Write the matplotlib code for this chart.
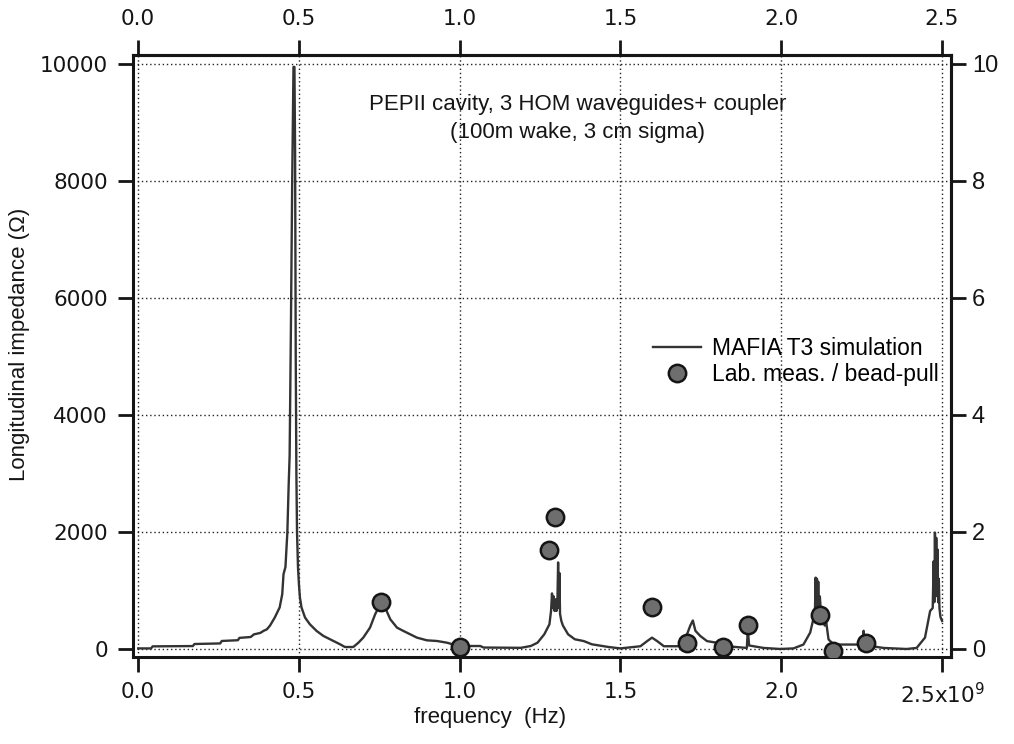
import matplotlib
matplotlib.use("Agg")
import matplotlib.pyplot as plt
from matplotlib.lines import Line2D

# ---------------- data ----------------
# MAFIA T3 simulation: frequency in GHz (axis is in Hz, x1e9), impedance in Ohm
sim_freq = [0.000, 0.040, 0.045, 0.170, 0.175, 0.255, 0.260, 0.310, 0.315, 0.350,
            0.360, 0.380, 0.390, 0.400, 0.410, 0.425, 0.440, 0.448, 0.452, 0.458,
            0.464, 0.468, 0.471, 0.475, 0.479, 0.483, 0.486, 0.488, 0.490, 0.492,
            0.494, 0.497, 0.500, 0.503, 0.508, 0.519, 0.534, 0.555, 0.576, 0.607,
            0.628, 0.643, 0.669, 0.685, 0.700, 0.721, 0.737, 0.753, 0.758, 0.768,
            0.784, 0.805, 0.825, 0.846, 0.867, 0.898, 0.929, 0.960, 0.986, 1.002,
            1.064, 1.074, 1.190, 1.221, 1.242, 1.263, 1.279, 1.284, 1.287, 1.289,
            1.292, 1.295, 1.298, 1.301, 1.304, 1.306, 1.308, 1.310, 1.312, 1.316,
            1.321, 1.337, 1.358, 1.386, 1.411, 1.463, 1.500, 1.562, 1.583, 1.598,
            1.614, 1.635, 1.681, 1.692, 1.707, 1.717, 1.725, 1.733, 1.748, 1.769,
            1.800, 1.831, 1.893, 1.896, 1.900, 1.945, 1.997, 2.038, 2.069, 2.090,
            2.100, 2.105, 2.107, 2.109, 2.111, 2.113, 2.115, 2.117, 2.120, 2.125,
            2.130, 2.135, 2.140, 2.147, 2.163, 2.204, 2.245, 2.253, 2.256, 2.259,
            2.266, 2.318, 2.390, 2.421, 2.447, 2.463, 2.471, 2.474, 2.476, 2.478,
            2.480, 2.482, 2.484, 2.486, 2.488, 2.490, 2.492, 2.495, 2.500]
sim_imp = [10, 10, 45, 50, 85, 95, 137, 150, 190, 205,
           250, 275, 310, 335, 400, 540, 710, 936, 1280, 1400,
           2000, 2800, 3300, 5500, 8000, 9950, 9950, 8500, 5000, 3000,
           2000, 1400, 1100, 880, 708, 537, 422, 308, 223, 137,
           80, 34, 34, 108, 194, 365, 594, 765, 794, 708,
           508, 365, 308, 251, 194, 148, 137, 108, 68, 51,
           51, 25, 20, 51, 108, 251, 422, 650, 950, 700,
           900, 650, 850, 650, 850, 1480, 700, 1300, 600, 480,
           400, 251, 166, 135, 80, 34, 10, 47, 135, 194,
           135, 47, 47, 135, 252, 399, 487, 311, 223, 135,
           106, 47, 18, 340, 60, 18, 0, 10, 76, 281,
           516, 700, 1220, 650, 1200, 600, 1150, 600, 900, 500,
           650, 400, 450, 164, 76, 76, 76, 76, 311, 76,
           60, 18, 0, 18, 194, 650, 700, 1500, 800, 1990,
           900, 1900, 1000, 1700, 800, 1200, 700, 550, 480]

# Lab. measurements / bead-pull
meas_freq = [0.756, 1.002, 1.278, 1.295, 1.598, 1.708, 1.818, 1.898, 2.120, 2.161, 2.262]
meas_imp = [800, 30, 1695, 2250, 720, 110, 40, 410, 580, -30, 95]

x_ticks = [0.0, 0.5, 1.0, 1.5, 2.0, 2.5]
x_bottom_labels = ["0.0", "0.5", "1.0", "1.5", "2.0", r"2.5x10$^{9}$"]
x_top_labels = ["0.0", "0.5", "1.0", "1.5", "2.0", "2.5"]
y_ticks = [0, 2000, 4000, 6000, 8000, 10000]
y_right_ticks = [0, 2, 4, 6, 8, 10]

title_lines = ["PEPII cavity, 3 HOM waveguides+ coupler", "(100m wake, 3 cm sigma)"]
sim_label = "MAFIA T3 simulation"
meas_label = "Lab. meas. / bead-pull"

# ---------------- figure ----------------
plt.rcParams['font.family'] = ['Liberation Sans', 'DejaVu Sans']
plt.rcParams['mathtext.fontset'] = 'dejavusans'

fig = plt.figure(figsize=(10.14, 7.44), dpi=100)
ax = fig.add_axes([0.1312, 0.1163, 0.8067, 0.8098])

xlim = (-0.016, 2.528)
ylim = (-145, 10154)
ax.set_xlim(*xlim)
ax.set_ylim(*ylim)

ink = '#151515'
grid_kw = dict(color='#222222', linewidth=1.0, linestyle=(0, (1, 2)))
ax.set_xticks(x_ticks)
ax.set_yticks(y_ticks)
ax.grid(True, **grid_kw)
ax.set_axisbelow(True)

line, = ax.plot(sim_freq, sim_imp, color='#333333', linewidth=1.7, zorder=3)
pts, = ax.plot(meas_freq, meas_imp, linestyle='none', marker='o', markersize=12.5,
               markerfacecolor='#6e6e6e', markeredgecolor=ink, markeredgewidth=1.8, zorder=4)

for s in ax.spines.values():
    s.set_linewidth(2.2)
    s.set_color(ink)

tick_font = dict(family='DejaVu Sans', size=15.5)
ax.set_xticklabels(x_bottom_labels, fontdict=tick_font)
ax.set_yticklabels([str(v) for v in y_ticks], fontdict=tick_font)
ax.tick_params(axis='both', direction='out', length=11, width=2.0, color=ink, labelcolor=ink)
ax.tick_params(axis='x', pad=7)
ax.tick_params(axis='y', pad=7)

# top axis
top = ax.secondary_xaxis('top')
top.set_xticks(x_ticks)
top.set_xticklabels(x_top_labels, fontdict=tick_font)
top.tick_params(direction='out', length=11, width=2.0, color=ink, labelcolor=ink, pad=8)
top.spines['top'].set_linewidth(2.2)

# right axis
right = ax.secondary_yaxis('right', functions=(lambda y: y / 1000.0, lambda y: y * 1000.0))
right.set_yticks(y_right_ticks)
right.set_yticklabels([str(v) for v in y_right_ticks], fontdict=dict(family='Liberation Sans', size=17))
right.tick_params(direction='out', length=11, width=2.0, color=ink, labelcolor=ink, pad=4)
right.spines['right'].set_linewidth(2.2)

ax.set_xlabel("frequency  (Hz)", fontsize=16, color=ink)
ax.set_ylabel("Longitudinal impedance (\u03a9)", fontsize=16, color=ink)
ax.xaxis.set_label_coords(0.436, -0.083)
ax.yaxis.set_label_coords(-0.126, 0.52)

ax.text(0.543, 0.918, title_lines[0], transform=ax.transAxes, ha='center', va='center',
        fontsize=16, color=ink)
ax.text(0.543, 0.871, title_lines[1], transform=ax.transAxes, ha='center', va='center',
        fontsize=16, color=ink)

handles = [Line2D([], [], color='#333333', linewidth=1.7),
           Line2D([], [], linestyle='none', marker='o', markersize=12.5,
                  markerfacecolor='#6e6e6e', markeredgecolor=ink, markeredgewidth=1.8)]
ax.legend(handles, [sim_label, meas_label], loc='upper left', bbox_to_anchor=(0.636, 0.532),
          frameon=False, fontsize=16.5, handlelength=2.1, handletextpad=0.45,
          labelspacing=0.12, borderpad=0, borderaxespad=0)

fig.savefig("out.png", dpi=100)
